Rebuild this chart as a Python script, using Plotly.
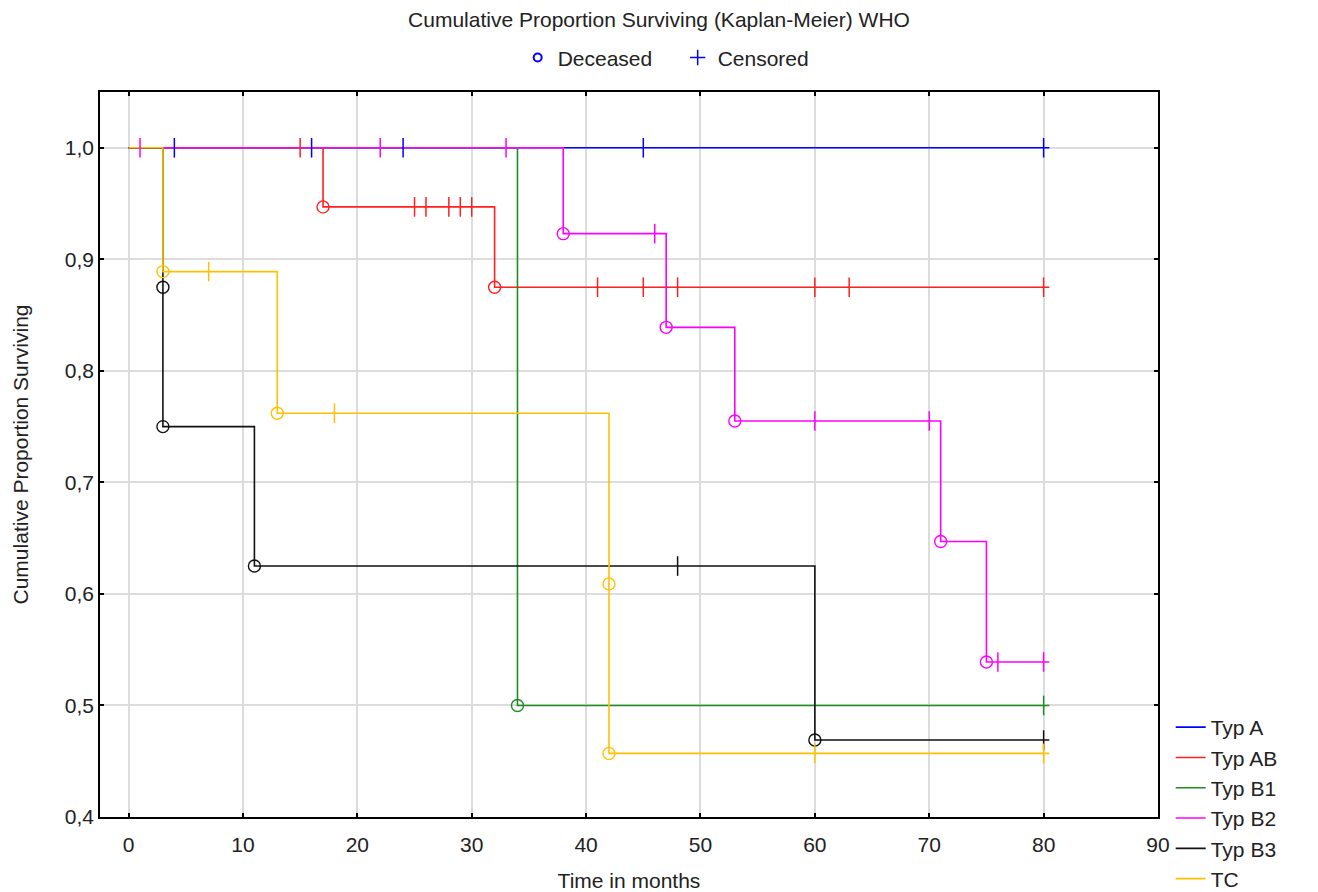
import numpy as np
import plotly.graph_objects as go

# ---- data ----
groups = ["Typ A", "Typ AB", "Typ B1", "Typ B2", "Typ B3", "TC"]
colors = ["#0000FF", "#FF2020", "#1E8C1E", "#FF00FF", "#111111", "#FFC000"]

# step-function knots (time in months, cumulative proportion surviving)
typA_t = [0, 80]
typA_s = [1.0, 1.0]
typAB_t = [0, 17, 32, 80]
typAB_s = [1.0, 0.947, 0.875, 0.875]
typB1_t = [0, 34, 80]
typB1_s = [1.0, 0.5, 0.5]
typB2_t = [0, 38, 47, 53, 71, 75, 80]
typB2_s = [1.0, 0.923, 0.839, 0.755, 0.647, 0.539, 0.539]
typB3_t = [0, 3, 3, 11, 60, 80]
typB3_s = [1.0, 0.875, 0.75, 0.625, 0.469, 0.469]
tc_t = [0, 3, 13, 42, 42, 80]
tc_s = [1.0, 0.889, 0.762, 0.609, 0.457, 0.457]

# end of drawn follow-up line (months)
follow_up_end = 80.5

# censored times
typA_c = [4, 16, 24, 45, 80]
typAB_c = [15, 25, 26, 28, 29, 30, 41, 45, 48, 60, 63, 80]
typB1_c = [80]
typB2_c = [1, 22, 33, 46, 60, 70, 76, 80]
typB3_c = [48, 80]
tc_c = [7, 18, 60, 80]

steps_t = [typA_t, typAB_t, typB1_t, typB2_t, typB3_t, tc_t]
steps_s = [typA_s, typAB_s, typB1_s, typB2_s, typB3_s, tc_s]
censored = [typA_c, typAB_c, typB1_c, typB2_c, typB3_c, tc_c]

x_ticks = list(range(0, 91, 10))
y_ticks = [0.4, 0.5, 0.6, 0.7, 0.8, 0.9, 1.0]

FONT = "Liberation Sans, Arial, sans-serif"
FS = 21
TXT = "#222222"
fig = go.Figure()

# survival step lines
for name, t, s, col in zip(groups, steps_t, steps_s, colors):
    fig.add_trace(go.Scatter(
        x=list(t) + [follow_up_end], y=list(s) + [s[-1]], mode="lines", name=name,
        line=dict(color=col, width=1.6, shape="hv"),
        legendgroup=name, legend="legend", hoverinfo="skip"))

# deaths (open circles) and censored (ticks)
for name, t, s, c, col in zip(groups, steps_t, steps_s, censored, colors):
    t_arr = np.array(t, dtype=float)
    s_arr = np.array(s, dtype=float)
    dx, dy = [], []
    for k in range(1, len(t_arr)):
        if s_arr[k] < s_arr[k - 1]:
            dx.append(t_arr[k]); dy.append(s_arr[k])
    fig.add_trace(go.Scatter(
        x=dx, y=dy, mode="markers", showlegend=False,
        marker=dict(symbol="circle-open", size=12, color=col, line=dict(width=1.4, color=col))))
    c_arr = np.array(c, dtype=float)
    idx = np.searchsorted(t_arr, c_arr, side="right") - 1
    cy = s_arr[idx]
    fig.add_trace(go.Scatter(
        x=c_arr, y=cy, mode="markers", showlegend=False,
        marker=dict(symbol="line-ns-open", size=14, color=col, line=dict(width=1.5, color=col))))

# top legend: marker meaning
fig.add_trace(go.Scatter(x=[None], y=[None], mode="markers", name="Deceased", legend="legend2",
                         marker=dict(symbol="circle-open", size=8, color="#0000FF",
                                     line=dict(width=2, color="#0000FF"))))
fig.add_trace(go.Scatter(x=[None], y=[None], mode="markers", name="Censored", legend="legend2",
                         marker=dict(symbol="cross-thin-open", size=11, color="#0000FF",
                                     line=dict(width=1.5, color="#0000FF"))))

axis_common = dict(
    showline=True, linecolor="black", linewidth=1.5, mirror="ticks",
    ticks="inside", ticklen=4, tickcolor="black", tickwidth=1.5,
    showgrid=True, gridcolor="#DCDCDC", gridwidth=1.5, zeroline=False,
    tickfont=dict(family=FONT, size=FS, color=TXT),
)

# page body has an 8px default margin: shift margins to compensate
W, H = 1318, 912
M_L, M_T, M_B = 92, 84, 103
plot_h = H - M_T - M_B
fig.update_layout(
    width=W, height=H,
    paper_bgcolor="white", plot_bgcolor="white",
    margin=dict(l=M_L, r=168, t=M_T, b=M_B),
    separators=",.",
    title=dict(text="Cumulative Proportion Surviving (Kaplan-Meier) WHO",
               x=(659 - 8) / W, xref="container", xanchor="center",
               y=1 - 12 / H, yref="container", yanchor="middle",
               font=dict(family=FONT, size=FS, color=TXT)),
    xaxis=dict(range=[-2.5, 90], tickvals=x_ticks, ticklabelstandoff=8,
               title=dict(text="Time in months", standoff=18,
                          font=dict(family=FONT, size=FS, color=TXT)),
               **axis_common),
    yaxis=dict(range=[0.4, 1.05], tickvals=y_ticks, tickformat=".1f",
               title=dict(text="Cumulative Proportion Surviving", standoff=30,
                          font=dict(family=FONT, size=FS, color=TXT)),
               **axis_common),
    legend=dict(x=1.012, xanchor="left", y=(H - M_B - 699) / plot_h, yanchor="top",
                font=dict(family=FONT, size=FS, color=TXT),
                tracegroupgap=0, bgcolor="rgba(0,0,0,0)"),
    legend2=dict(orientation="h", x=0.546, xanchor="center", y=1.047, yanchor="middle",
                 entrywidth=115,
                 font=dict(family=FONT, size=FS, color=TXT),
                 bgcolor="rgba(0,0,0,0)"),
    showlegend=True,
)

fig.write_html("out.html")
